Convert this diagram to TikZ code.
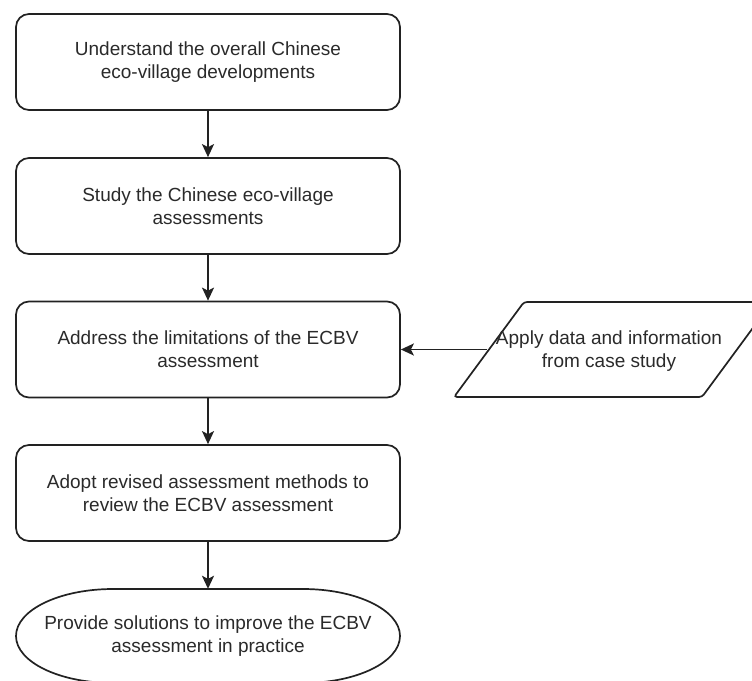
\documentclass[tikz,border=0pt]{standalone}
\usepackage{fontspec}
\setmainfont{Liberation Sans}
\usetikzlibrary{arrows.meta,shapes.geometric}
\definecolor{ink}{HTML}{222222}
\definecolor{txt}{HTML}{2A2A2A}
\begin{document}
\begin{tikzpicture}[x=1pt,y=-1pt,
  stepbox/.style={draw=ink,line width=1.7pt,rounded corners=13pt,minimum width=384pt,minimum height=96pt,align=center,text=txt,font=\fontsize{19}{23}\selectfont,inner sep=0pt},
  endbox/.style={minimum width=384pt,minimum height=94pt,inner sep=0pt,align=center,text=txt,font=\fontsize{19}{23}\selectfont},
  outline/.style={draw=ink,line width=1.7pt},
  txtonly/.style={align=center,text=txt,font=\fontsize{19}{23}\selectfont,inner sep=0pt},
  flow/.style={draw=ink,line width=1.7pt,-{Stealth[length=13pt,width=12pt,inset=3pt]}}]
\useasboundingbox (0,0) rectangle (752,680);
\node[stepbox] (b1) at (208,62) {Understand the overall Chinese\\eco-village developments};
\node[stepbox] (b2) at (208,206) {Study the Chinese eco-village\\assessments};
\node[stepbox] (b3) at (208,349.5) {Address the limitations of the ECBV\\assessment};
\node[stepbox] (b4) at (208,493) {Adopt revised assessment methods to\\review the ECBV assessment};
\node[endbox] (b5) at (208,636) {Provide solutions to improve the ECBV\\assessment in practice};
\draw[outline] (113,589) -- (303,589) arc[start angle=-90,end angle=90,x radius=97,y radius=47] -- (113,683) arc[start angle=90,end angle=270,x radius=97,y radius=47] -- cycle;
\draw[outline,rounded corners=3pt] (454,397) -- (524,302) -- (772,302) -- (702,397) -- cycle;
\coordinate (pin) at (487,349.5);
\node[txtonly] (p) at (609,351) {Apply data and information\\from case study};
\draw[flow] (b1) -- (b2);
\draw[flow] (b2) -- (b3);
\draw[flow] (b3) -- (b4);
\draw[flow] (b4) -- (b5);
\draw[flow] (pin) -- (b3.east);
\end{tikzpicture}
\end{document}
